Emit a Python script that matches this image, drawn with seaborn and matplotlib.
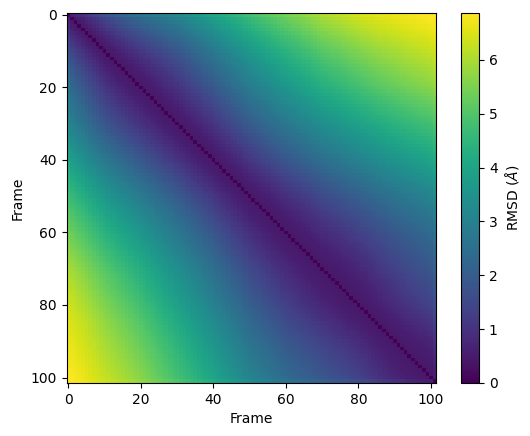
import numpy as np
import matplotlib
matplotlib.use('Agg')
import matplotlib.pyplot as plt
import seaborn as sns

# RMSD of every frame against the first frame (frame 0)
rmsd_to_first = [
    0.00, 0.40, 0.55, 0.70, 0.85, 1.00, 1.15, 1.30, 1.42, 1.56,
    1.70, 1.80, 1.90, 2.00, 2.10, 2.20, 2.28, 2.36, 2.44, 2.52,
    2.60, 2.66, 2.72, 2.78, 2.84, 2.90, 2.96, 3.02, 3.08, 3.14,
    3.20, 3.28, 3.36, 3.44, 3.52, 3.60, 3.68, 3.76, 3.84, 3.92,
    4.00, 4.08, 4.16, 4.24, 4.32, 4.40, 4.47, 4.54, 4.61, 4.68,
    4.75, 4.82, 4.89, 4.96, 5.03, 5.10, 5.16, 5.22, 5.28, 5.34,
    5.40, 5.46, 5.52, 5.58, 5.64, 5.70, 5.76, 5.82, 5.88, 5.94,
    6.00, 6.04, 6.08, 6.12, 6.16, 6.20, 6.24, 6.28, 6.32, 6.36,
    6.40, 6.43, 6.46, 6.49, 6.52, 6.55, 6.57, 6.59, 6.61, 6.63,
    6.65, 6.67, 6.69, 6.71, 6.73, 6.75, 6.77, 6.79, 6.81, 6.83,
    6.85, 6.87,
]

# RMSD of every frame against the last frame (frame 101)
rmsd_to_last = [
    6.87, 6.84, 6.80, 6.75, 6.70, 6.64, 6.58, 6.52, 6.46, 6.40,
    6.34, 6.28, 6.22, 6.16, 6.10, 6.04, 5.98, 5.92, 5.86, 5.80,
    5.72, 5.64, 5.56, 5.48, 5.40, 5.32, 5.24, 5.16, 5.08, 5.00,
    4.92, 4.84, 4.76, 4.68, 4.60, 4.52, 4.44, 4.36, 4.28, 4.20,
    4.12, 4.03, 3.94, 3.85, 3.76, 3.67, 3.58, 3.49, 3.40, 3.31,
    3.22, 3.15, 3.08, 3.01, 2.94, 2.87, 2.80, 2.73, 2.66, 2.59,
    2.52, 2.47, 2.42, 2.37, 2.32, 2.27, 2.22, 2.17, 2.12, 2.07,
    2.02, 1.97, 1.92, 1.87, 1.82, 1.77, 1.72, 1.67, 1.62, 1.57,
    1.52, 1.45, 1.38, 1.31, 1.24, 1.17, 1.10, 1.03, 0.96, 0.89,
    0.82, 0.76, 0.70, 0.64, 0.58, 0.52, 0.47, 0.42, 0.37, 0.32,
    0.25, 0.00,
]

# RMSD between two distinct but neighbouring frames (thermal noise)
noise_floor = 0.45

tick_frames = [0, 20, 40, 60, 80, 100]

# place the frames in a plane from their distances to the two end frames
a = np.array(rmsd_to_first)
b = np.array(rmsd_to_last)
D = a[-1]
px = (a**2 - b**2 + D**2) / (2 * D)
py = np.sqrt(np.clip(a**2 - px**2, 0, None))
d2 = (px[:, None] - px[None, :])**2 + (py[:, None] - py[None, :])**2
rmsd = np.sqrt(d2 + noise_floor**2)
np.fill_diagonal(rmsd, 0.0)

fig = plt.figure(figsize=(5.3, 4.36), dpi=100)
ax = fig.add_axes([0.1255, 0.1216, 0.698, 0.8486])
cax = fig.add_axes([0.869, 0.1216, 0.0351, 0.8486])

sns.heatmap(rmsd, cmap='viridis', vmin=0, vmax=D, ax=ax, cbar_ax=cax,
            xticklabels=False, yticklabels=False,
            cbar_kws={'label': r'RMSD ($\AA$)'})

ax.set_xticks([t + 0.5 for t in tick_frames])
ax.set_xticklabels(tick_frames, rotation=0)
ax.set_yticks([t + 0.5 for t in tick_frames])
ax.set_yticklabels(tick_frames, rotation=0)
ax.set_xlabel('Frame')
ax.set_ylabel('Frame')
for s in ax.spines.values():
    s.set_visible(True)
    s.set_linewidth(0.8)

cbar = ax.collections[0].colorbar
cbar.outline.set_visible(True)
cbar.outline.set_linewidth(0.8)
cbar.set_ticks([0, 1, 2, 3, 4, 5, 6])

fig.savefig('out.png', dpi=100)
